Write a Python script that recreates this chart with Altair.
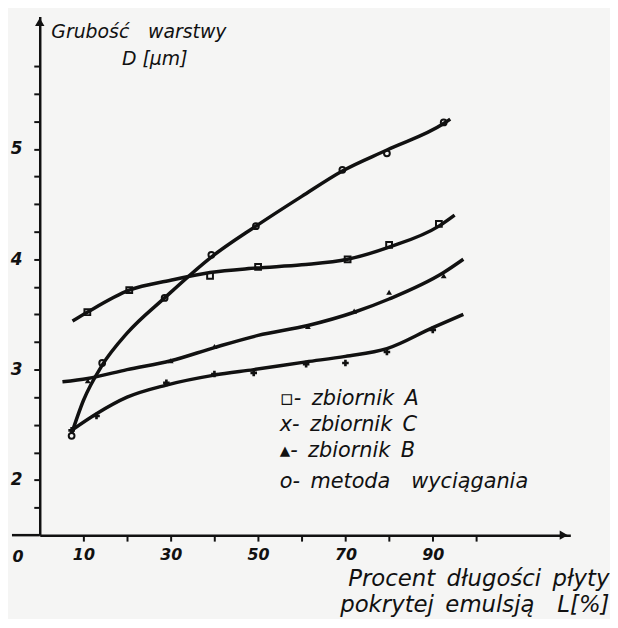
import altair as alt
import pandas as pd

# ---- data (x = L [%], D = thickness [um]) ----
# metoda wyciagania (steep upper curve)
met_line_x = [7.3, 10, 14.3, 20, 28.6, 39.3, 49.5, 60, 69.3, 79.5, 92.5, 94]
met_line_d = [2.42, 2.72, 3.04, 3.33, 3.65, 4.02, 4.30, 4.57, 4.80, 4.99, 5.23, 5.27]
met_pts_x = [7.3, 14.3, 28.6, 39.3, 49.5, 69.3, 79.5, 92.5]
met_pts_d = [2.40, 3.06, 3.65, 4.04, 4.30, 4.81, 4.96, 5.24]

# zbiornik A (flat curve near 3.9)
a_line_x = [7.5, 10.9, 20.5, 30, 39, 49.5, 60, 70.5, 80, 91.4, 95]
a_line_d = [3.44, 3.52, 3.72, 3.81, 3.88, 3.92, 3.95, 4.00, 4.11, 4.30, 4.40]
a_pts_x = [10.9, 20.5, 39.0, 50.0, 70.5, 80.0, 91.4]
a_pts_d = [3.52, 3.72, 3.85, 3.93, 4.00, 4.13, 4.32]

# zbiornik B (middle curve)
b_line_x = [5.2, 11, 20, 30, 40, 50, 61.4, 72, 80, 92.5, 97]
b_line_d = [2.89, 2.92, 3.00, 3.08, 3.20, 3.31, 3.40, 3.52, 3.64, 3.88, 4.00]
b_pts_x = [11, 30, 40, 61.4, 72, 80, 92.5]
b_pts_d = [2.90, 3.08, 3.21, 3.39, 3.53, 3.70, 3.85]

# zbiornik C (lowest curve)
c_line_x = [7.3, 13, 20, 29, 40, 49, 61, 70, 79.5, 90, 97]
c_line_d = [2.45, 2.60, 2.75, 2.86, 2.95, 3.00, 3.07, 3.12, 3.19, 3.38, 3.50]
c_pts_x = [7.3, 13, 29, 40, 49, 61, 70, 79.5, 90]
c_pts_d = [2.45, 2.58, 2.88, 2.96, 2.97, 3.05, 3.06, 3.16, 3.36]

x_ticks = [10, 20, 30, 40, 50, 60, 70, 80, 90, 100]
y_ticks = [1.75, 2, 2.25, 2.5, 2.75, 3, 3.25, 3.5, 3.75, 4, 4.25, 4.5, 4.75, 5, 5.25, 5.5, 5.75]
SP = "\u2002"
legend_labels = ["▫-" + SP + "zbiornik" + SP + "A",
                 "x-" + SP + "zbiornik" + SP + "C",
                 "▴-" + SP + "zbiornik" + SP + "B",
                 "o-" + SP + "metoda" + SP + SP + "wyciągania"]
y_title = ["Grubość" + SP + SP + "warstwy", "D [μm]"]
x_title = ["Procent" + SP + "długości" + SP + "płyty",
           "pokrytej" + SP + "emulsją" + SP + SP + "L[%]"]

X_DOM = [0, 121.5]
Y_DOM = [1.5, 6.2]
W, H = 535, 523
INK = "#111111"
FONT = "DejaVu Sans"


def line_df(name, xs, ds):
    return pd.DataFrame({"series": name, "x": xs, "D": ds})


lines = pd.concat([
    line_df("metoda", met_line_x, met_line_d),
    line_df("A", a_line_x, a_line_d),
    line_df("B", b_line_x, b_line_d),
    line_df("C", c_line_x, c_line_d),
])

xenc = alt.X(
    "x:Q",
    scale=alt.Scale(domain=X_DOM, nice=False, zero=False),
    axis=alt.Axis(
        values=x_ticks, tickCount=40,
        labelExpr="datum.value % 20 == 10 ? datum.value : ''",
        grid=False, tickSize=6, tickWidth=2, domainWidth=2.5,
        domainColor=INK, tickColor=INK, labelColor=INK,
        labelFont=FONT, labelFontStyle="italic", labelFontWeight="bold",
        labelFontSize=16, labelPadding=6,
        title=x_title, titleFont=FONT, titleFontStyle="italic",
        titleFontWeight="normal", titleFontSize=23, titleColor=INK,
        titleAlign="right", titleX=574, titleY=51, titleBaseline="alphabetic",
        titleLineHeight=26,
    ),
)
yenc = alt.Y(
    "D:Q",
    scale=alt.Scale(domain=Y_DOM, nice=False, zero=False),
    axis=alt.Axis(
        values=y_ticks, tickCount=40,
        labelExpr="abs(datum.value - round(datum.value)) < 0.01 ? datum.value : ''",
        labelOverlap=False,
        grid=False, tickSize=6, tickWidth=2, domainWidth=2.5,
        domainColor=INK, tickColor=INK, labelColor=INK,
        labelFont=FONT, labelFontStyle="italic", labelFontWeight="bold",
        labelFontSize=17, labelPadding=12, title=None,
    ),
)

line_layer = alt.Chart(lines).mark_line(
    interpolate="monotone", color=INK, strokeWidth=3.5
).encode(x=xenc, y=yenc, detail="series:N")


def pts(xs, ds, shape, filled):
    df = pd.DataFrame({"x": xs, "D": ds})
    return alt.Chart(df).mark_point(
        shape=shape, filled=filled, color=INK, size=34 if shape != "cross" else 44,
        strokeWidth=2, opacity=1,
    ).encode(x="x:Q", y="D:Q")


p_met = pts(met_pts_x, met_pts_d, "circle", False)
p_a = pts(a_pts_x, a_pts_d, "square", False)
p_b = pts(b_pts_x, b_pts_d, "triangle-up", True)
p_c = pts(c_pts_x, c_pts_d, "cross", True)

# axis arrows and left extension of x axis
arr_y = alt.Chart(pd.DataFrame({"x": [X_DOM[0]], "D": [Y_DOM[1] - 0.05]})).mark_point(
    shape="triangle-up", filled=True, color=INK, size=90, opacity=1
).encode(x="x:Q", y="D:Q")
arr_x = alt.Chart(pd.DataFrame({"x": [X_DOM[1] - 1.5], "D": [Y_DOM[0]]})).mark_point(
    shape="triangle-right", filled=True, color=INK, size=90, opacity=1
).encode(x="x:Q", y="D:Q")
ext = alt.Chart(pd.DataFrame({"a": [0]})).mark_rule(color=INK, strokeWidth=2.5).encode(
    x=alt.value(-28), x2=alt.value(0), y=alt.value(H)
)
zero_lbl = alt.Chart(pd.DataFrame({"t": ["0"]})).mark_text(
    font=FONT, fontStyle="italic", fontWeight="bold", fontSize=16, color=INK,
    align="center", baseline="middle",
).encode(text="t:N", x=alt.value(-22), y=alt.value(H + 22))

# y title (written inside the plot, top-left)
yt1 = alt.Chart(pd.DataFrame({"t": [y_title[0]]})).mark_text(
    font=FONT, fontStyle="italic", fontSize=19, color=INK, align="center", baseline="middle"
).encode(text="t:N", x=alt.value(100), y=alt.value(16))
yt2 = alt.Chart(pd.DataFrame({"t": [y_title[1]]})).mark_text(
    font=FONT, fontStyle="italic", fontSize=19, color=INK, align="center", baseline="middle"
).encode(text="t:N", x=alt.value(116), y=alt.value(43))

# legend (hand-written list)
leg_rows_y = [386, 412, 438, 469]
leg_layers = []
for lbl, yy in zip(legend_labels, leg_rows_y):
    leg_layers.append(
        alt.Chart(pd.DataFrame({"t": [lbl]})).mark_text(
            font=FONT, fontStyle="italic", fontSize=21, color=INK,
            align="left", baseline="middle",
        ).encode(text="t:N", x=alt.value(242), y=alt.value(yy))
    )

chart = alt.layer(
    line_layer, p_met, p_a, p_b, p_c, arr_y, arr_x, ext, zero_lbl, yt1, yt2, *leg_layers
).properties(
    width=W, height=H,
    autosize=alt.AutoSizeParams(type="none"),
    padding={"left": 32, "top": 6, "right": 40, "bottom": 82},
    background="#f5f5f4",
).configure_view(stroke=None)

chart.save("out.html", embed_options={"renderer": "svg", "actions": False})
